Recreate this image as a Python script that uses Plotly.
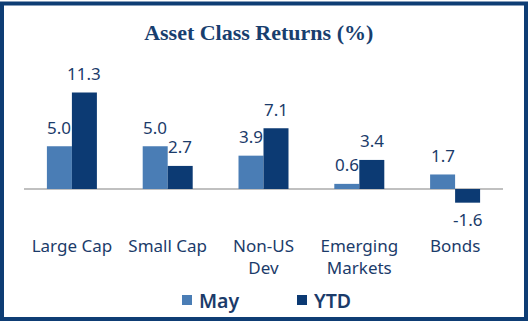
import plotly.graph_objects as go

# Monthly and year-to-date returns by asset class (%)
categories = ["Large Cap", "Small Cap", "Non-US<br>Dev", "Emerging<br>Markets", "Bonds"]
may_returns = [5.0, 5.0, 3.9, 0.6, 1.7]
ytd_returns = [11.3, 2.7, 7.1, 3.4, -1.6]
series_names = ["May", "YTD"]

MAY_COLOR = "#4a7db5"
YTD_COLOR = "#0c3a73"
TEXT_COLOR = "#1b3b6a"
FRAME_COLOR = "#0e3d74"

W, H = 530, 322
L, R, T, B = 24, 27, 72, 90
plot_w = W - L - R
plot_h = H - T - B

# vertical scale: ~8.55 px per percentage point, zero line at y=189 px
px_per_unit = 8.55
zero_px = 189
y_max = (zero_px - T) / px_per_unit
y_min = -((H - B) - zero_px) / px_per_unit


def px_x(p):
    return (p - L) / plot_w


def px_y(p):
    return ((H - B) - p) / plot_h


fig = go.Figure()
fig.add_trace(go.Bar(name=series_names[0], x=categories, y=may_returns,
                     marker=dict(color=MAY_COLOR, line=dict(width=0))))
fig.add_trace(go.Bar(name=series_names[1], x=categories, y=ytd_returns,
                     marker=dict(color=YTD_COLOR, line=dict(width=0))))

# value labels above (or below, for negatives) each bar
half_bar_px = 12.5
label_font = dict(family="Noto Sans", size=17, color=TEXT_COLOR)
for series, dx in ((may_returns, -half_bar_px), (ytd_returns, half_bar_px)):
    for cat, v in zip(categories, series):
        fig.add_annotation(x=cat, y=v, text=f"{v:.1f}", showarrow=False,
                           xshift=dx, yshift=19 if v >= 0 else -17,
                           yanchor="middle", font=label_font)

# legend row: colour swatch followed by series name
legend_font = dict(family="Noto Sans", size=19.5, color=TEXT_COLOR, weight=600)
for name, color, sq_left in ((series_names[0], MAY_COLOR, 182),
                             (series_names[1], YTD_COLOR, 297)):
    fig.add_shape(type="rect", xref="paper", yref="paper",
                  x0=px_x(sq_left), x1=px_x(sq_left + 10),
                  y0=px_y(305), y1=px_y(295),
                  line=dict(width=0), fillcolor=color)
    fig.add_annotation(xref="paper", yref="paper", x=px_x(sq_left + 14.5),
                       y=px_y(300.5), xanchor="left", yanchor="middle",
                       text=name, showarrow=False, font=legend_font)

# outer frame
fig.add_shape(type="rect", xref="paper", yref="paper",
              x0=px_x(2), x1=px_x(526), y0=px_y(319), y1=px_y(3.5),
              line=dict(color=FRAME_COLOR, width=4), fillcolor="rgba(0,0,0,0)",
              layer="above")

fig.update_layout(
    width=W, height=H,
    margin=dict(l=L, r=R, t=T, b=B, pad=0, autoexpand=False),
    paper_bgcolor="white", plot_bgcolor="white",
    barmode="group", bargap=0.478, bargroupgap=0,
    title=dict(text="<b>Asset Class Returns (%)</b>", x=0.49, xanchor="center",
               xref="paper", y=1 - 32 / H, yref="container", yanchor="middle",
               font=dict(family="Liberation Serif", size=22, color="#183e6e")),
    font=dict(family="Noto Sans", color=TEXT_COLOR),
    showlegend=False,
    xaxis=dict(showgrid=False, showline=False, ticks="", automargin=False,
               ticklabelstandoff=2,
               tickfont=dict(family="Noto Sans", size=17, color=TEXT_COLOR)),
    yaxis=dict(range=[y_min, y_max], showgrid=False, showticklabels=False,
               automargin=False,
               zeroline=True, zerolinecolor="#c0c0c0", zerolinewidth=2,
               showline=False, ticks=""),
)

fig.write_html("out.html")
